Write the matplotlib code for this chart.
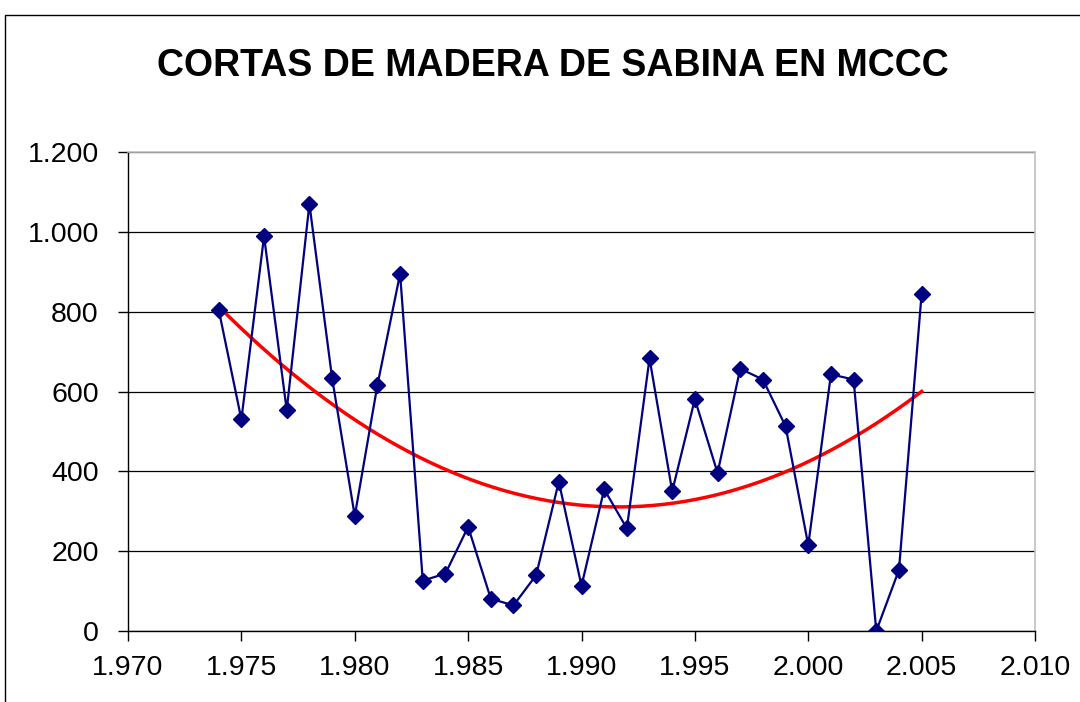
import numpy as np
import matplotlib
matplotlib.use("Agg")
import matplotlib.pyplot as plt
from matplotlib.ticker import FuncFormatter, MultipleLocator
from matplotlib.patches import Rectangle

plt.rcParams['font.family'] = ['Liberation Sans', 'DejaVu Sans']

years = [1974, 1975, 1976, 1977, 1978, 1979, 1980, 1981, 1982, 1983,
         1984, 1985, 1986, 1987, 1988, 1989, 1990, 1991, 1992, 1993,
         1994, 1995, 1996, 1997, 1998, 1999, 2000, 2001, 2002, 2003,
         2004, 2005]
cortas = [805, 530, 989, 553, 1070, 634, 288, 616, 895, 126,
          144, 261, 81, 64, 140, 374, 113, 355, 257, 683,
          350, 581, 396, 657, 630, 513, 215, 643, 630, 0,
          153, 845]

title = "CORTAS DE MADERA DE SABINA EN MCCC"


def miles(v, pos):
    # formato con punto de miles, como en la hoja original
    return f"{int(round(v)):,}".replace(",", ".")


fig = plt.figure(figsize=(10.8, 7.02), dpi=100)
fig.patches.append(Rectangle((5 / 1080, -0.1), 1.2, 1 - 15 / 702 + 0.1,
                             transform=fig.transFigure, fill=False,
                             edgecolor='black', linewidth=1.0))

ax = fig.add_axes([128 / 1080, 1 - 631 / 702, (1035 - 128) / 1080, (631 - 152) / 702])

ax.plot(years, cortas, color='#000080', linewidth=1.6, marker='D',
        markersize=8, markerfacecolor='#000080', markeredgecolor='#000080', zorder=3)

# linea de tendencia polinomica (grado 2), como la de Excel
coef = np.polyfit(years, cortas, 2)
xt = np.linspace(years[0], years[-1], 200)
ax.plot(xt, np.polyval(coef, xt), color='#ff0000', linewidth=2.5, zorder=2)

ax.set_xlim(1970, 2010)
ax.set_ylim(0, 1200)
ax.xaxis.set_major_locator(MultipleLocator(5))
ax.yaxis.set_major_locator(MultipleLocator(200))
ax.xaxis.set_major_formatter(FuncFormatter(miles))
ax.yaxis.set_major_formatter(FuncFormatter(miles))
ax.grid(axis='y', color='black', linewidth=0.9)
ax.set_axisbelow(True)

for s in ['top', 'right']:
    ax.spines[s].set_color('#c0c0c0')
    ax.spines[s].set_linewidth(1.2)
for s in ['left', 'bottom']:
    ax.spines[s].set_color('black')
    ax.spines[s].set_linewidth(1.0)

ax.tick_params(axis='both', direction='out', length=7, width=1, labelsize=20.5, color='black')
ax.tick_params(axis='x', pad=10)
ax.tick_params(axis='y', pad=14)

fig.text(553 / 1080, 1 - 66 / 702, title, ha='center', va='center',
         fontsize=27, fontweight='bold')

fig.savefig("out.png", dpi=100)
